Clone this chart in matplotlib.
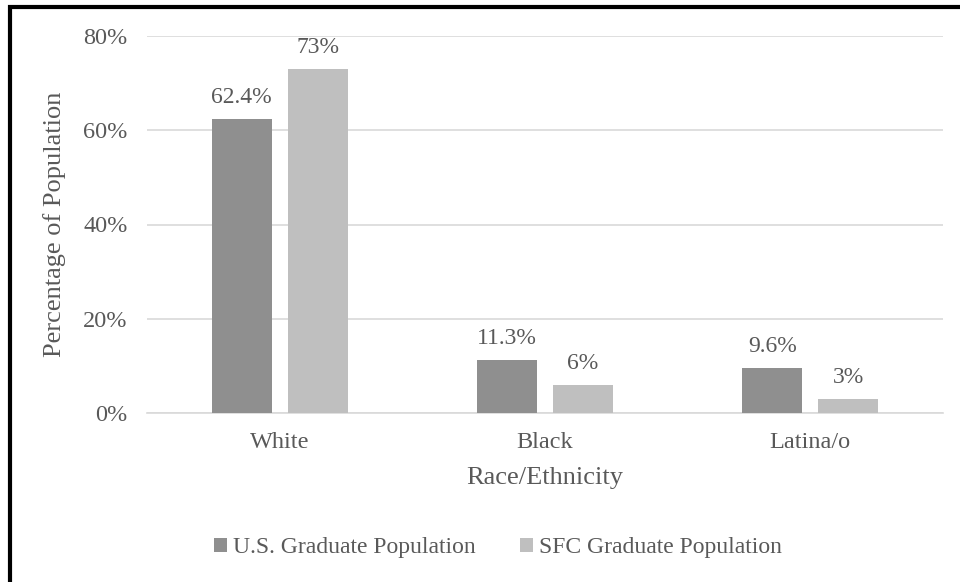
import matplotlib
matplotlib.use("Agg")
import matplotlib.pyplot as plt
from matplotlib.patches import Rectangle
import numpy as np

categories = ["White", "Black", "Latina/o"]
series_names = ["U.S. Graduate Population", "SFC Graduate Population"]
us_values = [62.4, 11.3, 9.6]
sfc_values = [73, 6, 3]
us_labels = ["62.4%", "11.3%", "9.6%"]
sfc_labels = ["73%", "6%", "3%"]
yticks = [0, 20, 40, 60, 80]
ytick_labels = ["0%", "20%", "40%", "60%", "80%"]

plt.rcParams['font.family'] = ['Liberation Serif', 'DejaVu Serif']
txt = "#595959"
c_us = "#8f8f8f"
c_sfc = "#bfbfbf"

fig = plt.figure(figsize=(9.6, 5.82), dpi=100)
ax = fig.add_axes([147/960, 1-413/582, 796/960, (413-36)/582])

x = np.arange(len(categories))
w = 0.226
off = 0.143
b1 = ax.bar(x - off, us_values, w, color=c_us, label=series_names[0], zorder=3)
b2 = ax.bar(x + off, sfc_values, w, color=c_sfc, label=series_names[1], zorder=3)

for bars, labs in ((b1, us_labels), (b2, sfc_labels)):
    for r, l in zip(bars, labs):
        ax.annotate(l, (r.get_x() + r.get_width()/2, r.get_height()),
                    xytext=(0, 8), textcoords="offset points",
                    ha="center", va="bottom", fontsize=17, color=txt)

ax.set_xlim(-0.5, 2.5)
ax.set_ylim(0, 80)
ax.set_yticks(yticks)
ax.set_yticklabels(ytick_labels)
ax.set_xticks(x)
ax.set_xticklabels(categories)
ax.tick_params(axis='both', length=0, labelsize=17.5, labelcolor=txt)
ax.tick_params(axis='y', pad=14)
ax.tick_params(axis='x', pad=14)
ax.grid(axis='y', color="#d9d9d9", linewidth=1.2, zorder=0)
for s in ("top", "right", "left"):
    ax.spines[s].set_visible(False)
ax.spines["bottom"].set_color("#d9d9d9")
ax.spines["bottom"].set_linewidth(1.2)

ax.set_ylabel("Percentage of Population", fontsize=19, color=txt, labelpad=12)
ax.set_xlabel("Race/Ethnicity", fontsize=19, color=txt, labelpad=10)

leg = fig.legend(handles=[b1, b2], loc="center", bbox_to_anchor=(498/960, 1-548/582),
                 ncol=2, frameon=False, fontsize=17, handlelength=0.55, handleheight=0.55,
                 handletextpad=0.25, columnspacing=1.9, labelcolor=txt)

fig.patches.append(Rectangle((10/960, -0.1), 1.2, 1-7/582+0.1, transform=fig.transFigure,
                             fill=False, edgecolor="black", linewidth=3))

fig.savefig("out.png", dpi=100, facecolor="white")
